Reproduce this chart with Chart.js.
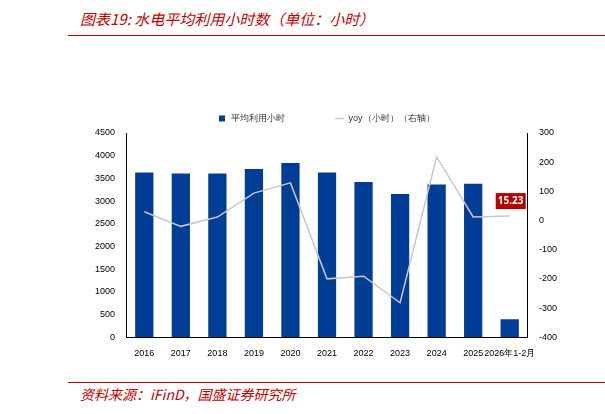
<!DOCTYPE html>
<html><head><meta charset="utf-8">
<script src="https://cdn.jsdelivr.net/npm/chart.js@4"></script>
<style>
body{margin:0;width:605px;height:414px;background:#fff;font-family:"Noto Sans CJK SC",sans-serif;position:relative;overflow:hidden}
#t{position:absolute;left:80px;top:8px;color:#c00000;font-style:italic;font-size:15px;font-weight:normal}
#l1{position:absolute;left:68px;top:35px;width:537px;border-top:1px solid #c00000}
#l2{position:absolute;left:68px;top:382px;width:537px;border-top:1px solid #c00000}
#s{position:absolute;left:80px;top:384px;color:#c00000;font-style:italic;font-size:14px}
#w{position:absolute;left:92px;top:64px;width:468px;height:298px}
</style></head><body>
<div id="t">图表19:  水电平均利用小时数（单位：小时）</div><div id="l1"></div>
<div id="w"><canvas id="c"></canvas></div>
<div id="l2"></div><div id="s">资料来源：iFinD，国盛证券研究所</div>
<script>
const categories=["2016","2017","2018","2019","2020","2021","2022","2023","2024","2025","2026年1-2月"];
const hours=[3630,3610,3610,3705,3837,3630,3420,3157,3365,3384,397];
const yoy=[30,-20,12,94,129,-200,-191,-282,218,12,15.23];
const lab={id:'lab',afterDatasetsDraw(c){const m=c.getDatasetMeta(1).data[10];const x=c.ctx;x.save();x.fillStyle='#b40000';x.fillRect(m.x-14,m.y-23,30,16);x.fillStyle='#fff';x.font='bold 10px "Noto Sans"';x.textAlign='center';x.textBaseline='middle';x.fillText('15.23',m.x+1,m.y-15);x.restore();}};
new Chart(document.getElementById('c'),{data:{labels:categories,datasets:[
{type:'bar',label:'平均利用小时',data:hours,backgroundColor:'#003d96',yAxisID:'y',barPercentage:0.5,categoryPercentage:1,order:2,pointStyle:'rect'},
{type:'line',label:'yoy（小时）（右轴）',data:yoy,borderColor:'#c8c8c8',backgroundColor:'#c8c8c8',borderWidth:1.5,pointRadius:0,pointStyle:'line',yAxisID:'y1',order:1}]},
options:{animation:false,responsive:true,maintainAspectRatio:false,
plugins:{legend:{labels:{usePointStyle:true,sort:(a,b)=>a.datasetIndex-b.datasetIndex,boxWidth:16,boxHeight:6,font:{size:9},color:'#333',padding:50}},tooltip:{enabled:false}},
scales:{x:{grid:{display:false},border:{color:'#000'},ticks:{color:'#000',font:{size:9},maxRotation:0,autoSkip:false}},
y:{min:0,max:4500,ticks:{stepSize:500,color:'#000',font:{size:9},callback:v=>String(v)},grid:{display:false},border:{color:'#000'}},
y1:{position:'right',min:-400,max:300,ticks:{stepSize:100,color:'#000',font:{size:9},callback:v=>String(v)},grid:{display:false},border:{color:'#000'}}}},
plugins:[lab]});
</script></body></html>
